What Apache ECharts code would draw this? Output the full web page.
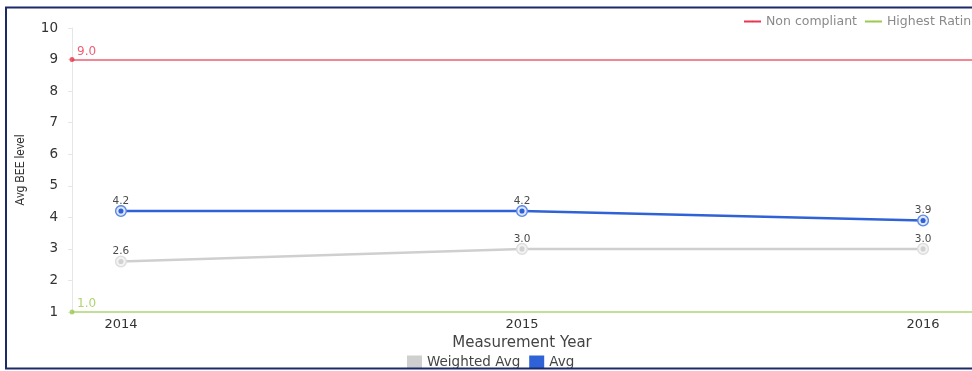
<!DOCTYPE html>
<html>
<head>
<meta charset="utf-8">
<script src="https://cdn.jsdelivr.net/npm/echarts@6/dist/echarts.min.js"></script>
<style>
  html, body { margin: 0; padding: 0; background: #fff; }
  #chart { width: 972px; height: 371px; }
</style>
</head>
<body>
<div id="chart"></div>
<script>
// Measurement years and the two BEE averages per year
const years = [2014, 2015, 2016];
const weightedAvg = [2.6, 3.0, 3.0];
const avg = [4.2, 4.2, 3.9];

// Reference levels drawn across the whole plot
const nonCompliantLevel = 9.0;
const highestRatingLevel = 1.0;

// Y axis range and step
const yMin = 1;
const yMax = 10;
const yStep = 1;

const FONT = '"DejaVu Sans", sans-serif';
const BLUE = '#2f62d6';
const GREY = '#cfcfcf';
const RED = '#e8364f';
const GREEN = '#9cc94f';

function markerSvg(fill, ring, dot) {
  const svg = '<svg xmlns="http://www.w3.org/2000/svg" width="28" height="28" viewBox="0 0 28 28">' +
    '<circle cx="14" cy="14" r="11.5" fill="' + fill + '" stroke="' + ring + '" stroke-width="3"/>' +
    '<circle cx="14" cy="14" r="5.5" fill="' + dot + '"/></svg>';
  return 'image://data:image/svg+xml;charset=utf-8,' + encodeURIComponent(svg);
}

const pad = 0.122;
const pairs = (vals) => years.map((y, i) => [y, vals[i]]);

function refSeries(name, level, color) {
  return {
    name: name,
    type: 'line',
    data: [],
    symbol: 'none',
    itemStyle: { color: color },
    lineStyle: { color: color, width: 1.5 },
    markLine: {
      silent: true,
      symbol: ['circle', 'none'],
      symbolSize: 5,
      lineStyle: { color: color, width: 1.5, type: 'solid', opacity: 0.8 },
      label: {
        show: true,
        position: 'insideStartTop',
        formatter: level.toFixed(1),
        color: color,
        fontFamily: FONT,
        fontSize: 12,
        distance: [5, 2]
      },
      data: [{ yAxis: level }]
    }
  };
}

function avgSeries(name, vals, color, marker, width) {
  return {
    name: name,
    type: 'line',
    data: pairs(vals),
    symbol: marker,
    symbolSize: 13,
    lineStyle: { color: color, width: width },
    itemStyle: { color: color },
    label: {
      show: true,
      position: 'top',
      distance: -2,
      formatter: (p) => p.value[1].toFixed(1),
      color: '#4a4a4a',
      fontFamily: FONT,
      fontSize: 10.5
    },
    z: 5
  };
}

const chart = echarts.init(document.getElementById('chart'), null, { renderer: 'canvas' });
chart.setOption({
  animation: false,
  backgroundColor: '#fff',
  textStyle: { fontFamily: FONT },
  grid: { left: 72, top: 28, bottom: 59, width: 902 },
  legend: [
    {
      data: ['Non compliant', 'Highest Rating'],
      left: 738,
      top: 10,
      width: 400,
      itemWidth: 17,
      itemHeight: 2,
      itemGap: 7,
      textStyle: { color: '#8a8a8a', fontSize: 12.5, fontFamily: FONT }
    },
    {
      data: [
        { name: 'Weighted Avg', icon: 'rect' },
        { name: 'Avg', icon: 'rect' }
      ],
      left: 402,
      top: 350,
      itemWidth: 15,
      itemHeight: 13,
      itemGap: 9,
      textStyle: { color: '#444', fontSize: 13.5, fontFamily: FONT }
    }
  ],
  xAxis: {
    type: 'value',
    min: years[0] - pad,
    max: years[years.length - 1] + pad,
    name: 'Measurement Year',
    nameLocation: 'middle',
    nameGap: 24,
    nameTextStyle: { color: '#444', fontSize: 15, fontFamily: FONT },
    axisLine: { show: false },
    axisTick: { show: false },
    splitLine: { show: false },
    axisLabel: {
      customValues: years,
      formatter: (v) => String(v),
      color: '#333',
      fontSize: 13,
      margin: 6,
      fontFamily: FONT
    }
  },
  yAxis: {
    type: 'value',
    min: yMin,
    max: yMax,
    interval: yStep,
    name: 'Avg BEE level',
    nameLocation: 'middle',
    nameGap: 45,
    nameTextStyle: { color: '#333', fontSize: 12, fontFamily: '"Roboto", sans-serif' },
    axisLine: { show: true, lineStyle: { color: '#e6e6e6', width: 1 } },
    axisTick: { show: true, length: 4, lineStyle: { color: '#e6e6e6' } },
    splitLine: { show: false },
    axisLabel: {
      color: '#333',
      fontSize: 13.5,
      margin: 14,
      fontFamily: FONT
    }
  },
  series: [
    refSeries('Non compliant', nonCompliantLevel, RED),
    refSeries('Highest Rating', highestRatingLevel, GREEN),
    avgSeries('Weighted Avg', weightedAvg, GREY, markerSvg('#f3f3f3', '#dddddd', '#d2d2d2'), 2.5),
    avgSeries('Avg', avg, BLUE, markerSvg('#dfe8fb', '#5b86e3', '#2f62d6'), 2.5)
  ],
  graphic: [
    {
      type: 'rect',
      z: 100,
      silent: true,
      shape: { x: 6, y: 7.5, width: 990, height: 361 },
      style: { fill: 'none', stroke: '#1c2b68', lineWidth: 2 }
    }
  ]
});
</script>
</body>
</html>
